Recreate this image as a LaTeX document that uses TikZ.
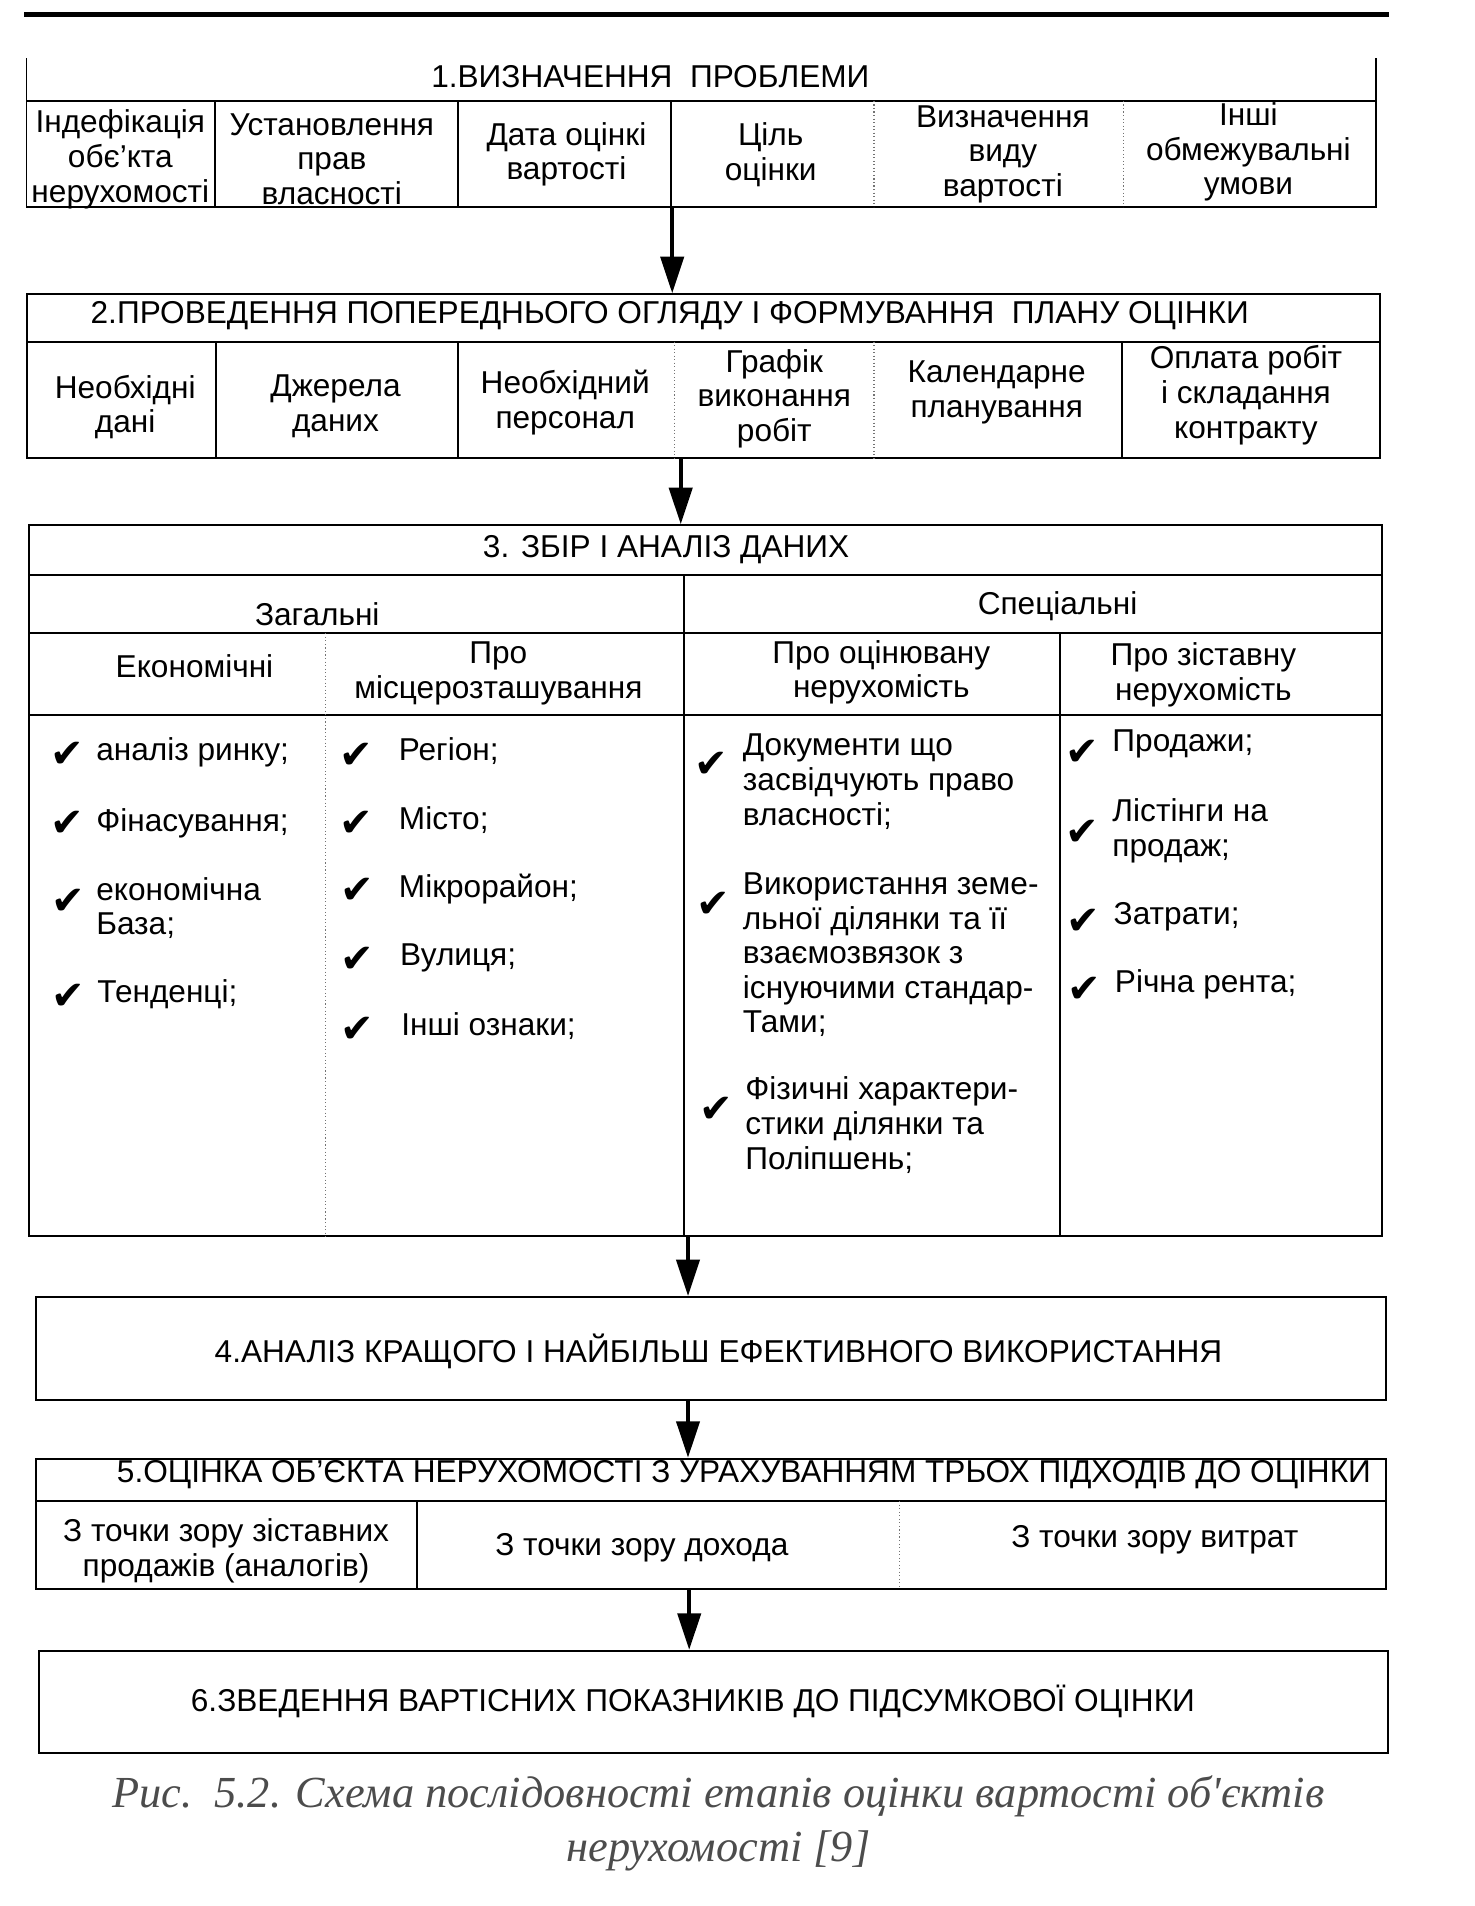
\documentclass[tikz,border=0pt]{standalone}
\usepackage{fontspec}
\setmainfont{Liberation Sans}
\newfontfamily\capfont{Liberation Serif}
\newfontfamily\symfont{DejaVu Sans}
\usetikzlibrary{arrows.meta}
\tikzset{
  txt/.style={font=\fontsize{26}{28.5}\selectfont, align=center, inner sep=0pt},
  ltxt/.style={txt, align=left, anchor=west},
  boxline/.style={line width=1.6pt},
  stage/.style={boxline, draw, rectangle, inner sep=0pt},
  faint/.style={line width=0.9pt, dotted, black!55},
  arr/.style={line width=3.2pt, -{Triangle[length=30pt,width=19pt]}},
  chk/.style={font=\symfont\fontsize{33}{33}\selectfont, inner sep=0pt},
  capt/.style={font=\capfont\itshape\fontsize{36.5}{44}\selectfont, align=center, text=black!70, inner sep=0pt}
}
\begin{document}
\begin{tikzpicture}[x=1pt,y=-1pt]
\fill[white] (0,0) rectangle (1213,1568);
\useasboundingbox (0,0) rectangle (1213,1568);
% running-head rule
\draw[line width=4pt] (20,12) -- (1143,12);

% ---------- stage 1 ----------
\node[draw=none, minimum width=1110pt, minimum height=122pt, inner sep=0pt] (b1) at (577,109) {};
\draw[boxline] (b1.north west) -- (b1.south west) -- (b1.south east) -- (b1.north east);
\draw[boxline] (22,83) -- (1132,83);
\draw[boxline] (177,83) -- (177,170);
\draw[boxline] (377,83) -- (377,170);
\draw[boxline] (552,83) -- (552,170);
\draw[faint] (719,83) -- (719,170);
\draw[faint] (924,83) -- (924,170);
\node[txt] (t1) at (535,63) {1.ВИЗНАЧЕННЯ\ \ ПРОБЛЕМИ};
\node[txt] (c11) at (99,131) {Індефікація\\обє’кта\\нерухомості};
\node[txt] (c12) at (273,131) {Установлення\\прав\\власності};
\node[txt] (c13) at (466,127) {Дата оцінкі\\вартості};
\node[txt] (c14) at (634,127) {Ціль\\оцінки};
\node[txt] (c15) at (825,127) {Визначення\\виду\\вартості};
\node[txt] (c16) at (1027,125) {Інші\\обмежувальні\\умови};

% ---------- stage 2 ----------
\node[stage, minimum width=1113pt, minimum height=135pt] (b2) at (578.5,309.5) {};
\draw[boxline] (22,281) -- (1135,281);
\draw[boxline] (178,281) -- (178,377);
\draw[boxline] (377,281) -- (377,377);
\draw[faint] (555,281) -- (555,377);
\draw[faint] (719,281) -- (719,377);
\draw[boxline] (923,281) -- (923,377);
\node[txt] (t2) at (551,260) {2.ПРОВЕДЕННЯ ПОПЕРЕДНЬОГО ОГЛЯДУ І ФОРМУВАННЯ\ \ ПЛАНУ ОЦІНКИ};
\node[txt] (c21) at (103,335) {Необхідні\\дані};
\node[txt] (c22) at (276,334) {Джерела\\даних};
\node[txt] (c23) at (465,331) {Необхідний\\персонал};
\node[txt] (c24) at (637,328) {Графік\\виконання\\робіт};
\node[txt] (c25) at (820,323) {Календарне\\планування};
\node[txt] (c26) at (1025,325) {Оплата робіт\\і складання\\контракту};

% ---------- stage 3 ----------
\node[stage, minimum width=1113pt, minimum height=585pt] (b3) at (580.5,724.5) {};
\draw[boxline] (24,473) -- (1137,473);
\draw[boxline] (24,521) -- (1137,521);
\draw[boxline] (24,588) -- (1137,588);
\draw[boxline] (563,473) -- (563,1017);
\draw[faint] (268,521) -- (268,1017);
\draw[boxline] (872,521) -- (872,1017);
\node[txt] (t3) at (548,452) {3. ЗБІР І АНАЛІЗ ДАНИХ};
\node[txt] (g1) at (261,505) {Загальні};
\node[txt] (g2) at (870,499) {Спеціальні};
\node[txt] (h1) at (160,548) {Економічні};
\node[txt] (h2) at (410,554) {Про\\місцерозташування};
\node[txt] (h3) at (725,553) {Про оцінювану\\нерухомість};
\node[txt] (h4) at (990,555) {Про зіставну\\нерухомість};
% column 1
\node[chk] (k11) at (55,621) {✔};  \node[ltxt] (i11) at (79,619) {аналіз ринку;};
\node[chk] (k12) at (55,678) {✔};  \node[ltxt] (i12) at (79,677) {Фінасування;};
\node[chk] (k13) at (56,742) {✔};  \node[ltxt] (i13) at (79,747) {економічна\\База;};
\node[chk] (k14) at (56,820) {✔};  \node[ltxt] (i14) at (80,818) {Тенденці;};
% column 2
\node[chk] (k21) at (293,622) {✔}; \node[ltxt] (i21) at (328,618) {Регіон;};
\node[chk] (k22) at (293,678) {✔}; \node[ltxt] (i22) at (328,675) {Місто;};
\node[chk] (k23) at (294,733) {✔}; \node[ltxt] (i23) at (328,731) {Мікрорайон;};
\node[chk] (k24) at (294,790) {✔}; \node[ltxt] (i24) at (329,788) {Вулиця;};
\node[chk] (k25) at (294,847) {✔}; \node[ltxt] (i25) at (330,844) {Інші ознаки;};
% column 3
\node[chk] (k31) at (585,629) {✔}; \node[ltxt] (i31) at (611,643) {Документи що\\засвідчують право\\власності;};
\node[chk] (k32) at (587,744) {✔}; \node[ltxt] (i32) at (611,785.5) {Використання земе-\\льної ділянки та її\\взаємозвязок з\\існуючими стандар-\\Тами;};
\node[chk] (k33) at (589,913) {✔}; \node[ltxt] (i33) at (613,925.5) {Фізичні характери-\\стики ділянки та\\Поліпшень;};
% column 4
\node[chk] (k41) at (890,619) {✔}; \node[ltxt] (i41) at (915,612) {Продажи;};
\node[chk] (k42) at (890,685) {✔}; \node[ltxt] (i42) at (915,683.5) {Лістінги на\\продаж;};
\node[chk] (k43) at (891,758) {✔}; \node[ltxt] (i43) at (916,754) {Затрати;};
\node[chk] (k44) at (892,814) {✔}; \node[ltxt] (i44) at (917,810) {Річна рента;};

% ---------- stage 4 ----------
\node[stage, minimum width=1110pt, minimum height=85pt] (b4) at (585,1109.5) {};
\node[txt] (t4) at (591,1112) {4.АНАЛІЗ КРАЩОГО І НАЙБІЛЬШ ЕФЕКТИВНОГО ВИКОРИСТАННЯ};

% ---------- stage 5 ----------
\node[stage, minimum width=1110pt, minimum height=107pt] (b5) at (585,1253.5) {};
\draw[boxline] (30,1235) -- (1140,1235);
\draw[boxline] (343,1235) -- (343,1307);
\draw[faint] (740,1235) -- (740,1307);
\node[txt] (t5) at (612,1213) {5.ОЦІНКА ОБ’ЄКТА НЕРУХОМОСТІ З УРАХУВАННЯМ ТРЬОХ ПІДХОДІВ ДО ОЦІНКИ};
\node[txt] (c51) at (186,1276) {З точки зору зіставних\\продажів (аналогів)};
\node[txt] (c52) at (528,1273) {З точки зору дохода};
\node[txt] (c53) at (950,1267) {З точки зору витрат};

% ---------- stage 6 ----------
\node[stage, minimum width=1110pt, minimum height=84pt] (b6) at (587,1400) {};
\node[txt] (t6) at (570,1400) {6.ЗВЕДЕННЯ ВАРТІСНИХ ПОКАЗНИКІВ ДО ПІДСУМКОВОЇ ОЦІНКИ};

% ---------- arrows ----------
\coordinate (x1) at (553,0);
\coordinate (x2) at (560,0);
\coordinate (x3) at (566,0);
\coordinate (x4) at (566,0);
\coordinate (x5) at (567,0);
\draw[arr] (x1 |- b1.south) -- (x1 |- b2.north);
\draw[arr] (x2 |- b2.south) -- (x2 |- b3.north);
\draw[arr] (x3 |- b3.south) -- (x3 |- b4.north);
\draw[arr] (x4 |- b4.south) -- (x4 |- b5.north);
\draw[arr] (x5 |- b5.south) -- (x5 |- b6.north);

% ---------- caption ----------
\node[capt] (cap) at (591,1500) {Рис.\ \ 5.2. Схема послідовності етапів оцінки вартості об'єктів\\нерухомості [9]};
\end{tikzpicture}
\end{document}
